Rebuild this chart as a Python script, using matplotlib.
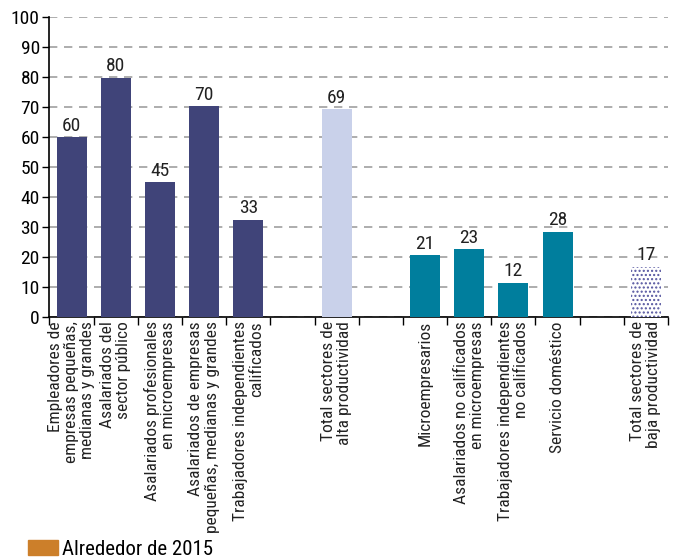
import matplotlib
matplotlib.use("Agg")
import matplotlib.pyplot as plt
from matplotlib.patches import Patch

plt.rcParams['font.family'] = ['Roboto Condensed', 'Liberation Sans Narrow', 'Roboto', 'DejaVu Sans']
plt.rcParams['hatch.linewidth'] = 1.0

# Data
categories = [
    "Empleadores de\nempresas pequeñas,\nmedianas y grandes",
    "Asalariados del\nsector público",
    "Asalariados profesionales\nen microempresas",
    "Asalariados de empresas\npequeñas, medianas y grandes",
    "Trabajadores independientes\ncalificados",
    "",
    "Total sectores de\nalta productividad",
    "",
    "Microempresarios",
    "Asalariados no calificados\nen microempresas",
    "Trabajadores independientes\nno calificados",
    "Servicio doméstico",
    "",
    "Total sectores de\nbaja productividad",
]
values = [60.0, 79.8, 45.0, 70.3, 32.4, None, 69.2, None, 20.6, 22.6, 11.5, 28.4, None, 16.8]
labels = ["60", "80", "45", "70", "33", "", "69", "", "21", "23", "12", "28", "", "17"]
groups = ["alta", "alta", "alta", "alta", "alta", None, "total_alta", None,
          "baja", "baja", "baja", "baja", None, "total_baja"]
legend_label = "Alrededor de 2015"

colors = {"alta": "#404479", "total_alta": "#c9d1ea", "baja": "#007e9d"}

fig = plt.figure(figsize=(6.75, 5.59), dpi=100)
ax = fig.add_axes([0.0733, 0.4329, 0.9163, 0.5367])

n = len(categories)
for i, (v, lab, g) in enumerate(zip(values, labels, groups)):
    if v is None:
        continue
    x = i + 0.5
    if g == "total_baja":
        ax.bar(x, v, width=0.68, facecolor="white", edgecolor="#55559f",
               hatch="....", linewidth=0, zorder=3)
    else:
        ax.bar(x, v, width=0.68, color=colors[g], zorder=3)
    ax.text(x, v + 0.8, lab, ha="center", va="bottom", fontsize=14, color="#222222")

ax.set_xlim(0, n)
ax.set_ylim(0, 100)
ax.set_yticks(range(0, 101, 10))
ax.tick_params(axis="y", labelsize=14, length=5, width=1, colors="black", pad=2)
ax.yaxis.grid(True, linestyle=(0, (5, 4)), color="#a0a0a0", linewidth=1.2, zorder=0)
ax.set_axisbelow(True)

ax.set_xticks(range(0, n + 1))
ax.set_xticklabels([])
ax.tick_params(axis="x", which="major", length=6, width=1)
ax.set_xticks([i + 0.5 for i in range(n)], minor=True)
ax.set_xticklabels(categories, minor=True, rotation=90, ha="center", va="top",
                   multialignment="right", fontsize=12.5, color="#222222", linespacing=1.1)
ax.tick_params(axis="x", which="minor", length=0, pad=3)

for s in ["top", "right"]:
    ax.spines[s].set_visible(False)
ax.spines["left"].set_linewidth(1.2)
ax.spines["bottom"].set_linewidth(1.2)

fig.legend(handles=[Patch(color="#cc7f2a", label=legend_label)], loc="lower left",
           bbox_to_anchor=(0.0415, 0.0), frameon=False, fontsize=15,
           borderaxespad=0, borderpad=0,
           handlelength=1.45, handleheight=0.72, handletextpad=0.2)

fig.savefig("out.png", dpi=100)
